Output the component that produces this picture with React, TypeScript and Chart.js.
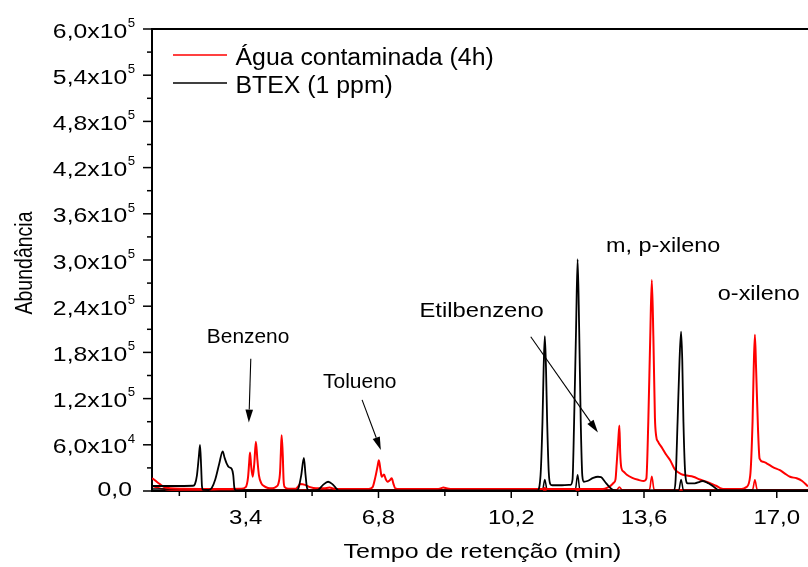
import React, { useEffect, useRef } from "react";
import { Chart, registerables } from "chart.js";

Chart.register(...registerables);

// ---- Data: retention time (min) vs. abundance ----

// Água contaminada (4h) — main trace
const aguaTempo = [
  1.0, 1.05, 1.12, 1.2, 1.3, 1.46, 1.8, 2.4, 3.0, 3.28, 3.4, 3.46, 3.49, 3.51, 3.54, 3.58, 3.62, 3.66, 3.7,
  3.74, 3.8, 3.88, 3.97, 4.08, 4.18, 4.24, 4.28, 4.3, 4.32, 4.35, 4.37, 4.4, 4.5, 4.68, 4.76, 4.79, 4.92,
  5.05, 5.2, 5.4, 5.55, 5.66, 5.85, 6.55, 6.65, 6.72, 6.78, 6.81, 6.85, 6.88, 6.94, 6.99, 7.03, 7.09, 7.14,
  7.18, 7.23, 7.35, 8.3, 8.4, 8.46, 8.55, 8.7, 11.0, 11.06, 11.12, 12.55, 12.65, 12.75, 12.83, 12.87, 12.9,
  12.94, 12.97, 12.99, 13.02, 13.08, 13.16, 13.3, 13.45, 13.6, 13.66, 13.71, 13.76, 13.8, 13.84, 13.88,
  13.91, 13.96, 14.05, 14.17, 14.27, 14.39, 14.55, 14.7, 14.86, 15.03, 15.2, 15.35, 15.46, 15.55, 15.7,
  16.1, 16.22, 16.32, 16.38, 16.41, 16.44, 16.47, 16.52, 16.56, 16.65, 16.74, 16.9, 17.08, 17.2, 17.34,
  17.51, 17.65, 17.8,
];
const aguaAbund = [
  16500, 15000, 12000, 9000, 5500, 3500, 2800, 2600, 2600, 2800, 5000, 18000, 38000, 50000, 32000, 18500,
  36000, 64000, 40000, 20000, 10000, 6000, 4000, 3500, 5500, 10000, 25000, 50000, 72500, 45000, 14000,
  5000, 3000, 3000, 7000, 9000, 8000, 5000, 3500, 3500, 4500, 3000, 2600, 2600, 5000, 18000, 33000,
  40000, 28000, 18500, 21500, 15000, 12000, 14000, 16500, 10000, 3500, 2600, 2600, 3500, 4500, 3500,
  2600, 2600, 3800, 2600, 2600, 4000, 7000, 11000, 15000, 35000, 65000, 85000, 50000, 30000, 25000,
  21000, 17000, 14500, 13000, 16000, 90000, 200000, 274000, 200000, 95000, 72000, 64000, 57000, 47000,
  40000, 28000, 22000, 20000, 18500, 15000, 12000, 9000, 6500, 3800, 2600, 2600, 5000, 20000, 90000,
  160000, 203000, 160000, 80000, 42000, 38000, 36000, 31000, 27000, 23000, 18500, 16500, 13000, 6000,
];

// Água contaminada (4h) — second channel
const aguaTempo2 = [1.0, 1.1, 1.25, 1.5, 12.9, 12.97, 13.04, 13.74, 13.8, 13.86, 16.38, 16.44, 16.5, 17.8];
const aguaAbund2 = [6500, 5000, 3000, 1500, 1500, 5000, 1500, 1500, 19000, 1500, 1500, 14500, 1500, 1500];

// BTEX (1 ppm) — main trace
const btexTempo = [
  1.0, 1.5, 2.05, 2.1, 2.15, 2.2, 2.23, 2.26, 2.28, 2.31, 2.45, 2.53, 2.62, 2.72, 2.81, 2.86, 2.91, 2.97,
  3.04, 3.08, 3.11, 3.15, 4.7, 4.75, 4.82, 4.89, 4.93, 4.97, 5.03, 5.25, 5.38, 5.51, 5.62, 5.7, 5.78,
  10.87, 10.95, 11.0, 11.03, 11.06, 11.09, 11.12, 11.16, 11.2, 11.25, 11.5, 11.72, 11.77, 11.81, 11.86,
  11.9, 11.94, 11.98, 12.02, 12.06, 12.15, 12.3, 12.42, 12.5, 12.6, 12.7, 12.8, 12.88, 14.37, 14.41,
  14.46, 14.51, 14.55, 14.58, 14.61, 14.66, 14.72, 14.9, 15.03, 15.11, 15.25, 15.4, 15.52, 17.8,
];
const btexAbund = [
  6500, 6500, 6800, 9000, 20000, 45000, 60000, 30000, 6000, 1500, 1300, 4000, 15000, 35000, 51500, 43000,
  36000, 31000, 29000, 21000, 4000, 800, 800, 3500, 20000, 43000, 22000, 4000, 800, 1500, 8000, 12000,
  9000, 4500, 800, 800, 20000, 90000, 160000, 201000, 160000, 90000, 25000, 9000, 7500, 7500, 8000,
  15000, 90000, 210000, 301000, 210000, 90000, 20000, 12000, 13000, 17000, 18500, 18000, 12000, 6000,
  1500, 500, 800, 15000, 90000, 170000, 207000, 170000, 90000, 20000, 10000, 10000, 12000, 13000, 10000,
  5000, 1000, 800,
];

// BTEX (1 ppm) — second channel
const btexTempo2 = [1.0, 2.0, 3.0, 4.0, 11.0, 11.06, 11.12, 11.84, 11.9, 11.96, 14.49, 14.55, 14.61, 17.8];
const btexAbund2 = [2600, 2600, 1500, 1000, 1000, 15000, 1000, 1000, 21000, 1000, 1000, 15000, 1000, 1000];

// ---- Axes ----
const xMajorTicks = [3.4, 6.8, 10.2, 13.6, 17.0];
const xMinorTicks = [1.7, 5.1, 8.5, 11.9, 15.3];
const yMajorTicks = [0, 60000, 120000, 180000, 240000, 300000, 360000, 420000, 480000, 540000, 600000];
const yMinorTicks = [30000, 90000, 150000, 210000, 270000, 330000, 390000, 450000, 510000, 570000];

const xTitle = "Tempo de retenção (min)";
const yTitle = "Abundância";

const legendLabels = ["Água contaminada (4h)", "BTEX (1 ppm)"];
const seriesColors = ["#ff0000", "#000000"];

// ---- Peak annotations (data coordinates) ----
const peakNames = ["Benzeno", "Tolueno", "Etilbenzeno", "m, p-xileno", "o-xileno"];
const peakNameX = [3.46, 6.32, 9.44, 14.09, 16.54];
const peakNameY = [201700, 143200, 234300, 318900, 256400];

const arrowFromX = [3.53, 6.38, 10.7];
const arrowFromY = [171800, 118400, 200400];
const arrowToX = [3.48, 6.86, 12.42];
const arrowToY = [88900, 53400, 75900];

// ---- Drawing helpers ----
const FONT = '"Liberation Sans", Arial, Helvetica, sans-serif';
const CAP = 0.35;

const peakStyle = [
  { size: 19.5, sx: 1.07 },
  { size: 20, sx: 1.05 },
  { size: 19.5, sx: 1.22 },
  { size: 19.5, sx: 1.2 },
  { size: 19.5, sx: 1.2 },
];

function pairs(xs: number[], ys: number[]) {
  return xs.map((x, i) => ({ x, y: ys[i] }));
}

// Horizontal text, widened by sx, positioned by the middle of its capitals
function drawText(
  ctx: CanvasRenderingContext2D,
  text: string,
  x: number,
  capMid: number,
  size: number,
  sx: number,
  align: "left" | "center" | "right"
) {
  ctx.save();
  ctx.font = `${size}px ${FONT}`;
  ctx.textAlign = "left";
  ctx.textBaseline = "alphabetic";
  const w = ctx.measureText(text).width * sx;
  const left = align === "center" ? x - w / 2 : align === "right" ? x - w : x;
  ctx.translate(left, capMid + CAP * size);
  ctx.scale(sx, 1);
  ctx.fillText(text, 0, 0);
  ctx.restore();
  return w;
}

function drawArrow(ctx: CanvasRenderingContext2D, x1: number, y1: number, x2: number, y2: number) {
  const ang = Math.atan2(y2 - y1, x2 - x1);
  const headLen = 13;
  const half = 3.8;
  const bx = x2 - headLen * Math.cos(ang);
  const by = y2 - headLen * Math.sin(ang);
  ctx.beginPath();
  ctx.moveTo(x1, y1);
  ctx.lineTo(bx, by);
  ctx.stroke();
  ctx.beginPath();
  ctx.moveTo(x2, y2);
  ctx.lineTo(bx + half * Math.sin(ang), by - half * Math.cos(ang));
  ctx.lineTo(bx - half * Math.sin(ang), by + half * Math.cos(ang));
  ctx.closePath();
  ctx.fill();
}

function formatX(v: number) {
  return v.toFixed(1).replace(".", ",");
}

function formatY(v: number): [string, string] {
  if (v === 0) return ["0,0", ""];
  const e = Math.floor(Math.log10(v) + 1e-9);
  const m = v / Math.pow(10, e);
  return [m.toFixed(1).replace(".", ",") + "x10", String(e)];
}

const framePlugin = {
  id: "originFrame",
  afterDraw(chart: any) {
    const { ctx, chartArea } = chart;
    const xs = chart.scales.x;
    const ys = chart.scales.y;
    const { left, right, top, bottom } = chartArea;
    ctx.save();
    ctx.strokeStyle = "#000";
    ctx.fillStyle = "#000";

    // top frame line
    ctx.lineWidth = 2;
    ctx.beginPath();
    ctx.moveTo(left - 1, top);
    ctx.lineTo(right, top);
    ctx.stroke();

    // y tick marks
    ctx.lineWidth = 1.5;
    yMajorTicks.forEach((v) => {
      const py = ys.getPixelForValue(v);
      ctx.beginPath();
      ctx.moveTo(left - 9, py);
      ctx.lineTo(left, py);
      ctx.stroke();
    });
    yMinorTicks.forEach((v) => {
      const py = ys.getPixelForValue(v);
      ctx.beginPath();
      ctx.moveTo(left - 5, py);
      ctx.lineTo(left, py);
      ctx.stroke();
    });

    // x tick marks
    xMajorTicks.forEach((v) => {
      const px = xs.getPixelForValue(v);
      ctx.beginPath();
      ctx.moveTo(px, bottom);
      ctx.lineTo(px, bottom + 7);
      ctx.stroke();
    });
    xMinorTicks.forEach((v) => {
      const px = xs.getPixelForValue(v);
      ctx.beginPath();
      ctx.moveTo(px, bottom);
      ctx.lineTo(px, bottom + 5);
      ctx.stroke();
    });

    // y tick labels: mantissa x10 with raised exponent
    yMajorTicks.forEach((v) => {
      const py = ys.getPixelForValue(v);
      const [mant, exp] = formatY(v);
      if (exp) {
        const ew = drawText(ctx, exp, 135, py - 6.5, 12, 1.1, "right");
        drawText(ctx, mant, 135 - ew - 0.5, py + 1.5, 20.3, 1.22, "right");
      } else {
        drawText(ctx, mant, 132, py - 2, 20.3, 1.22, "right");
      }
    });

    // x tick labels
    xMajorTicks.forEach((v) => {
      const px = xs.getPixelForValue(v);
      drawText(ctx, formatX(v), px, 517, 20, 1.2, "center");
    });

    // axis titles
    drawText(ctx, xTitle, (left + right) / 2 + 2.5, 550.5, 21, 1.19, "center");
    ctx.save();
    ctx.font = `19.5px ${FONT}`;
    const yw = ctx.measureText(yTitle).width;
    ctx.translate(32, (top + bottom) / 2 + 3 + yw / 2);
    ctx.rotate(-Math.PI / 2);
    ctx.scale(1, 1.22);
    ctx.textAlign = "left";
    ctx.textBaseline = "alphabetic";
    ctx.fillText(yTitle, 0, 0);
    ctx.restore();

    // legend
    const legendY = [55, 83];
    legendLabels.forEach((lab, i) => {
      ctx.strokeStyle = seriesColors[i];
      ctx.lineWidth = 1.3;
      ctx.beginPath();
      ctx.moveTo(173, legendY[i]);
      ctx.lineTo(227, legendY[i]);
      ctx.stroke();
      drawText(ctx, lab, 235.5, legendY[i] + 2.2, 23, 1.08, "left");
    });

    // peak names and arrows
    ctx.strokeStyle = "#000";
    ctx.fillStyle = "#000";
    peakNames.forEach((name, i) => {
      const st = peakStyle[i];
      drawText(ctx, name, xs.getPixelForValue(peakNameX[i]), ys.getPixelForValue(peakNameY[i]), st.size, st.sx, "center");
    });
    ctx.lineWidth = 1.1;
    arrowFromX.forEach((_, i) => {
      drawArrow(
        ctx,
        xs.getPixelForValue(arrowFromX[i]),
        ys.getPixelForValue(arrowFromY[i]),
        xs.getPixelForValue(arrowToX[i]),
        ys.getPixelForValue(arrowToY[i])
      );
    });

    ctx.restore();
  },
};

export default function App() {
  const canvasRef = useRef<HTMLCanvasElement | null>(null);

  useEffect(() => {
    const canvas = canvasRef.current;
    if (!canvas) return;
    const line = (data: { x: number; y: number }[], color: string, width: number) => ({
      data,
      borderColor: color,
      backgroundColor: color,
      borderWidth: width,
      pointRadius: 0,
      fill: false,
      cubicInterpolationMode: "monotone" as const,
    });
    const chart = new Chart(canvas, {
      type: "line",
      data: {
        datasets: [
          { label: legendLabels[1], ...line(pairs(btexTempo, btexAbund), seriesColors[1], 1.8) },
          { label: legendLabels[0], ...line(pairs(aguaTempo, aguaAbund), seriesColors[0], 2) },
          { label: legendLabels[1] + " 2", ...line(pairs(btexTempo2, btexAbund2), seriesColors[1], 1.5) },
          { label: legendLabels[0] + " 2", ...line(pairs(aguaTempo2, aguaAbund2), seriesColors[0], 1.6) },
        ],
      },
      options: {
        animation: false,
        responsive: false,
        maintainAspectRatio: false,
        layout: { padding: { left: 152, top: 29, right: 0, bottom: 76 } },
        plugins: { legend: { display: false }, tooltip: { enabled: false } },
        scales: {
          x: {
            type: "linear",
            min: 1.0,
            max: 17.8,
            ticks: { display: false },
            grid: { display: false, drawTicks: false },
            border: { display: true, color: "#000", width: 2 },
          },
          y: {
            type: "linear",
            min: 0,
            max: 600000,
            ticks: { display: false },
            grid: { display: false, drawTicks: false },
            border: { display: true, color: "#000", width: 2 },
          },
        },
      },
      plugins: [framePlugin],
    });
    return () => chart.destroy();
  }, []);

  return (
    <div style={{ position: "absolute", left: 0, top: 0, width: 808, height: 567, background: "#fff" }}>
      <canvas ref={canvasRef} width={808} height={567} style={{ display: "block" }} />
    </div>
  );
}
